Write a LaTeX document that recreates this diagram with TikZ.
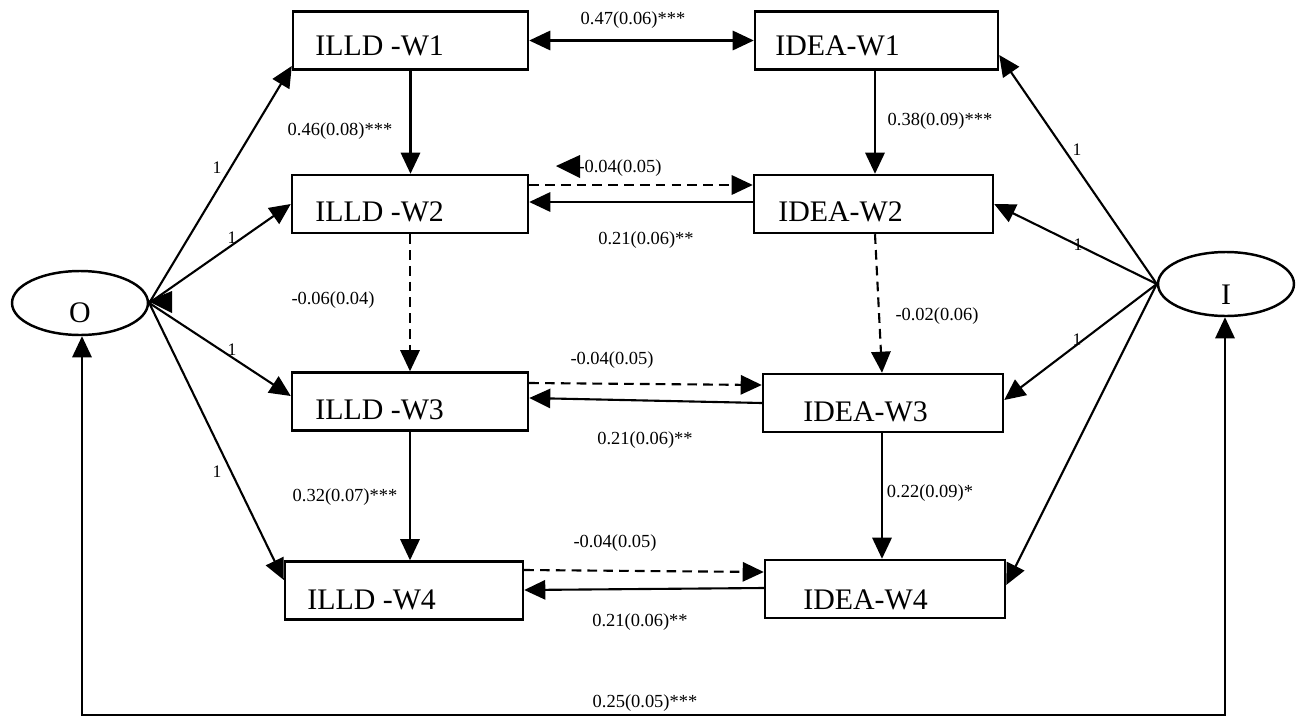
\documentclass[tikz,border=0pt]{standalone}
\usepackage{fontspec}
\setmainfont{Liberation Serif}
\usetikzlibrary{arrows.meta,shapes.geometric}
\begin{document}
\begin{tikzpicture}[x=0.02cm,y=-0.02cm,
  box/.style={draw,line width=1.4pt,minimum height=1.16cm,inner sep=0pt},
  boxtext/.style={anchor=west,font=\fontsize{17}{20}\selectfont,inner sep=0pt},
  latent/.style={draw,ellipse,line width=1.4pt,minimum width=2.72cm,minimum height=1.28cm,inner sep=0pt},
  lbl/.style={font=\fontsize{10.5}{12}\selectfont,inner sep=0pt},
  one/.style={font=\fontsize{10}{11}\selectfont,inner sep=0pt},
  arr/.style={line width=1.2pt,-{Triangle[length=12pt,width=11pt]}},
  darr/.style={line width=1.2pt,{Triangle[length=12pt,width=11pt]}-{Triangle[length=12pt,width=11pt]}},
  dsh/.style={dash pattern=on 5.5pt off 3.5pt}]
\useasboundingbox (0,0) rectangle (1302,717);
% latent variables
\node[latent] (O) at (80,303) {};
\node[font=\fontsize{17}{20}\selectfont,inner sep=0pt] (Ot) at (80,313) {O};
\node[latent] (I) at (1226,284) {};
\node[font=\fontsize{17}{20}\selectfont,inner sep=0pt] (It) at (1226,295) {I};
% boxes
\node[box,minimum width=4.7cm] (L1) at (410.5,40.5) {};
\node[box,minimum width=4.86cm] (R1) at (876.5,40.5) {};
\node[box,minimum width=4.72cm] (L2) at (410,204) {};
\node[box,minimum width=4.78cm] (R2) at (873.5,204) {};
\node[box,minimum width=4.72cm] (L3) at (410,401.5) {};
\node[box,minimum width=4.8cm] (R3) at (883,403) {};
\node[box,minimum width=4.76cm] (L4) at (404,590.5) {};
\node[box,minimum width=4.8cm] (R4) at (885,589) {};
\node[boxtext] (L1t) at (315,46) {ILLD -W1};
\node[boxtext] (R1t) at (775,46) {IDEA-W1};
\node[boxtext] (L2t) at (315,212) {ILLD -W2};
\node[boxtext] (R2t) at (778,212) {IDEA-W2};
\node[boxtext] (L3t) at (315,410) {ILLD -W3};
\node[boxtext] (R3t) at (803,412) {IDEA-W3};
\node[boxtext] (L4t) at (307,600) {ILLD -W4};
\node[boxtext] (R4t) at (803,600) {IDEA-W4};
% loadings from O
\draw[arr] (O.east) -- (L1.west |- 0,66);
\draw[arr] (O.east) -- (L2.west);
\draw[arr] (O.east) -- (L3.west |- 0,396);
\draw[arr] (O.east) -- (L4.west |- 0,580);
% loadings from I
\draw[arr] (I.west) -- (R1.east |- 0,55);
\draw[arr] (I.west) -- (R2.east);
\draw[arr] (I.west) -- (R3.east |- 0,400);
\draw[arr] (I.west) -- (R4.east |- 0,585);
% stray arrowheads
\fill (148,301) -- (172,291) -- (172,313) -- cycle;
\fill (556,166) -- (580,155) -- (580,178) -- cycle;
% verticals
\draw[arr] (L1.south) -- (L1.south |- L2.north);
\draw[arr,dsh] (L2.south) -- (L2.south |- L3.north);
\draw[arr] (L3.south) -- (L3.south |- L4.north);
\draw[arr] (R1.south -| 875,0) -- (R2.north -| 875,0);
\draw[arr,dsh] (R2.south -| 875,0) -- (R3.north -| 882,0);
\draw[arr] (R3.south -| 882,0) -- (R4.north -| 882,0);
% horizontals
\draw[darr] (L1.east) -- (R1.west);
\draw[arr,dsh] (L2.east |- 0,185) -- (R2.west |- 0,185);
\draw[arr] (R2.west |- 0,202) -- (L2.east |- 0,202);
\draw[arr,dsh] (L3.east |- 0,383) -- (R3.west |- 0,385);
\draw[arr] (R3.west |- 0,403) -- (L3.east |- 0,398);
\draw[arr,dsh] (L4.east |- 0,570) -- (R4.west |- 0,572);
\draw[arr] (R4.west |- 0,588) -- (L4.east |- 0,590);
% bottom covariance
\coordinate (BL) at (82,715);
\coordinate (BR) at (1225,715);
\draw[darr] (O.south -| BL) -- (BL) -- (BR) -- (I.south -| BR);
% labels
\node[lbl] (e1) at (633,20) {0.47(0.06)***};
\node[lbl] (e2) at (340,131) {0.46(0.08)***};
\node[lbl] (e3) at (940,121) {0.38(0.09)***};
\node[lbl] (e4) at (620,168) {-0.04(0.05)};
\node[lbl] (e5) at (646,240) {0.21(0.06)**};
\node[lbl] (e6) at (333,300) {-0.06(0.04)};
\node[lbl] (e7) at (937,316) {-0.02(0.06)};
\node[lbl] (e8) at (612,360) {-0.04(0.05)};
\node[lbl] (e9) at (645,440) {0.21(0.06)**};
\node[lbl] (e10) at (345,497) {0.32(0.07)***};
\node[lbl] (e11) at (930,493) {0.22(0.09)*};
\node[lbl] (e12) at (615,543) {-0.04(0.05)};
\node[lbl] (e13) at (640,622) {0.21(0.06)**};
\node[lbl] (e14) at (645,703) {0.25(0.05)***};
\node[one] (o1) at (217,168) {1};
\node[one] (o2) at (232,238) {1};
\node[one] (o3) at (232,350) {1};
\node[one] (o4) at (217,472) {1};
\node[one] (i1) at (1077,150) {1};
\node[one] (i2) at (1078,245) {1};
\node[one] (i3) at (1077,340) {1};
\end{tikzpicture}
\end{document}
